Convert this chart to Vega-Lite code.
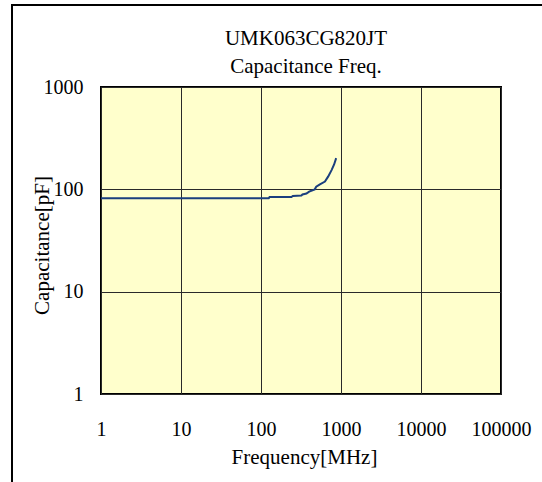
{
  "$schema": "https://vega.github.io/schema/vega-lite/v6.json",
  "width": 400,
  "height": 307,
  "autosize": "none",
  "padding": {"left": 101, "top": 87, "right": 41, "bottom": 88},
  "background": "white",
  "title": {
    "text": ["UMK063CG820JT", "Capacitance Freq."],
    "font": "Liberation Serif",
    "fontSize": 21,
    "fontWeight": "normal",
    "lineHeight": 28,
    "color": "black",
    "anchor": "middle",
    "frame": "group",
    "offset": -73,
    "dx": 5
  },
  "config": {
    "view": {"fill": "#FFFFCC", "stroke": "black", "strokeWidth": 2}
  },
  "data": {
    "values": [
      {"part": "UMK063CG820JT", "freq": 1, "cap": 82},
      {"part": "UMK063CG820JT", "freq": 125, "cap": 82},
      {"part": "UMK063CG820JT", "freq": 128, "cap": 84},
      {"part": "UMK063CG820JT", "freq": 240, "cap": 84},
      {"part": "UMK063CG820JT", "freq": 250, "cap": 86},
      {"part": "UMK063CG820JT", "freq": 320, "cap": 87},
      {"part": "UMK063CG820JT", "freq": 330, "cap": 89},
      {"part": "UMK063CG820JT", "freq": 370, "cap": 91},
      {"part": "UMK063CG820JT", "freq": 400, "cap": 95},
      {"part": "UMK063CG820JT", "freq": 470, "cap": 100},
      {"part": "UMK063CG820JT", "freq": 490, "cap": 106},
      {"part": "UMK063CG820JT", "freq": 545, "cap": 112},
      {"part": "UMK063CG820JT", "freq": 630, "cap": 119},
      {"part": "UMK063CG820JT", "freq": 690, "cap": 133},
      {"part": "UMK063CG820JT", "freq": 765, "cap": 155},
      {"part": "UMK063CG820JT", "freq": 820, "cap": 175},
      {"part": "UMK063CG820JT", "freq": 870, "cap": 202}
    ]
  },
  "mark": {"type": "line", "strokeWidth": 2, "interpolate": "linear"},
  "encoding": {
    "x": {
      "field": "freq",
      "type": "quantitative",
      "scale": {"type": "log", "domain": [1, 100000], "nice": false},
      "axis": {
        "values": [1, 10, 100, 1000, 10000, 100000],
        "format": "d",
        "grid": true,
        "gridColor": "#2a2a2a",
        "gridWidth": 1,
        "gridOpacity": 1,
        "ticks": false,
        "domain": false,
        "labelFont": "Liberation Serif",
        "labelFontSize": 20,
        "labelColor": "black",
        "labelPadding": 41,
        "labelBaseline": "alphabetic",
        "labelFlush": false,
        "labelOverlap": false,
        "title": "Frequency[MHz]",
        "titleFont": "Liberation Serif",
        "titleFontSize": 21,
        "titleFontWeight": "normal",
        "titleColor": "black",
        "titleX": 203,
        "titleY": 69,
        "titleBaseline": "alphabetic",
        "titleAlign": "center"
      }
    },
    "y": {
      "field": "cap",
      "type": "quantitative",
      "scale": {"type": "log", "domain": [1, 1000], "nice": false},
      "axis": {
        "values": [1, 10, 100, 1000],
        "format": "d",
        "grid": true,
        "gridColor": "#2a2a2a",
        "gridWidth": 1,
        "gridOpacity": 1,
        "ticks": false,
        "domain": false,
        "labelFont": "Liberation Serif",
        "labelFontSize": 20,
        "labelColor": "black",
        "labelPadding": 18,
        "labelFlush": false,
        "labelOverlap": false,
        "title": "Capacitance[pF]",
        "titleFont": "Liberation Serif",
        "titleFontSize": 21,
        "titleFontWeight": "normal",
        "titleColor": "black",
        "titleX": -59,
        "titleY": 158,
        "titleAngle": -90,
        "titleBaseline": "middle",
        "titleAlign": "center"
      }
    },
    "color": {
      "field": "part",
      "type": "nominal",
      "scale": {"range": ["#1b3f7e"]},
      "legend": {
        "orient": "none",
        "legendX": -89,
        "legendY": -82,
        "padding": 300,
        "strokeColor": "black",
        "title": null,
        "symbolOpacity": 0,
        "symbolSize": 0,
        "labelOpacity": 0,
        "labelFontSize": 1,
        "encode": {"legend": {"update": {"strokeWidth": {"value": 2}}}}
      }
    }
  }
}
